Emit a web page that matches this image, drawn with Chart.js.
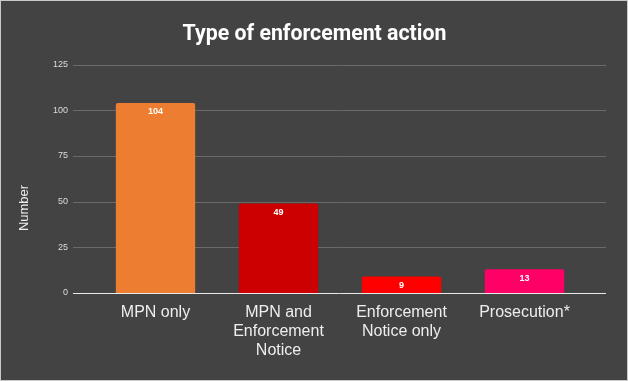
<!DOCTYPE html>
<html lang="en">
<head>
  <meta charset="UTF-8">
  <title>Type of enforcement action</title>
  <style>
    html, body { margin: 0; padding: 0; background: #ffffff; }
    #marco {
      width: 626px; height: 379px;
      border: 1px solid #c9c9c9;
      background: #434343;
    }
  </style>
</head>
<body>
  <div id="marco">
    <canvas id="grafico" width="626" height="379"></canvas>
  </div>

  <script src="https://cdn.jsdelivr.net/npm/chart.js"></script>
  <script>
    // Datos
    const categorias = [['MPN only'], ['MPN and', 'Enforcement', 'Notice'], ['Enforcement', 'Notice only'], ['Prosecution*']];
    const valores = [104, 49, 9, 13];
    const colores = ['#ed7d31', '#cc0000', '#ff0000', '#ff0066'];
    const marcasY = [0, 25, 50, 75, 100, 125];

    // las lineas de la rejilla van mas alla de las barras
    const rejilla = {
      id: 'rejilla',
      beforeDatasetsDraw(chart) {
        const ctx = chart.ctx;
        const y = chart.scales.y;
        ctx.save();
        ctx.lineWidth = 1;
        marcasY.forEach(v => {
          const py = Math.round(y.getPixelForValue(v)) + 0.5;
          ctx.strokeStyle = v === 0 ? '#e8e8e8' : '#6a6a6a';
          ctx.beginPath();
          ctx.moveTo(72, py);
          ctx.lineTo(605, py);
          ctx.stroke();
        });
        ctx.restore();
      },
      afterDraw(chart) {
        // titulo del eje Y
        const ctx = chart.ctx;
        ctx.save();
        ctx.translate(23, 207);
        ctx.rotate(-Math.PI / 2);
        ctx.fillStyle = '#eeeeee';
        ctx.font = '13px "Liberation Sans", Arial, sans-serif';
        ctx.textAlign = 'center';
        ctx.textBaseline = 'middle';
        ctx.fillText('Number', 0, 0);
        ctx.restore();
      }
    };

    // etiquetas dentro de cada barra
    const etiquetas = {
      id: 'etiquetas',
      afterDatasetsDraw(chart) {
        const ctx = chart.ctx;
        const meta = chart.getDatasetMeta(0);
        ctx.save();
        ctx.fillStyle = '#ffffff';
        ctx.font = 'bold 9px "Liberation Sans", Arial, sans-serif';
        ctx.textAlign = 'center';
        ctx.textBaseline = 'middle';
        meta.data.forEach((bar, i) => {
          ctx.fillText(String(valores[i]), bar.x, bar.y + 9);
        });
        ctx.restore();
      }
    };

    new Chart(document.getElementById('grafico'), {
      type: 'bar',
      data: {
        labels: categorias,
        datasets: [{
          label: 'Number',
          data: valores,
          backgroundColor: colores,
          borderRadius: 2,
          borderSkipped: 'bottom',
          categoryPercentage: 1,
          barPercentage: 0.645
        }]
      },
      options: {
        responsive: false,
        animation: false,
        layout: { padding: { left: 42, right: 41, top: 0, bottom: 0 } },
        plugins: {
          legend: { display: false },
          tooltip: { enabled: false },
          title: {
            display: true,
            text: 'Type of enforcement action',
            color: '#ffffff',
            font: { family: 'Roboto, "Liberation Sans", Arial, sans-serif', size: 21.3, weight: 'bold' },
            padding: { top: 21, bottom: 17 }
          }
        },
        scales: {
          x: {
            grid: { display: false, drawTicks: false },
            border: { display: false },
            ticks: {
              color: '#eeeeee',
              padding: 10,
              maxRotation: 0,
              font: { family: '"Liberation Sans", Arial, sans-serif', size: 16, lineHeight: 1.2 }
            },
            afterFit(scale) { scale.height = 87; }
          },
          y: {
            min: 0,
            max: 125,
            afterBuildTicks(scale) { scale.ticks = marcasY.map(v => ({ value: v })); },
            grid: { display: false, drawTicks: false },
            border: { display: false },
            ticks: {
              color: '#dddddd',
              padding: 26,
              font: { family: '"Liberation Sans", Arial, sans-serif', size: 9 }
            },
            afterFit(scale) { scale.width = 51; }
          }
        }
      },
      plugins: [rejilla, etiquetas]
    });
  </script>
</body>
</html>
